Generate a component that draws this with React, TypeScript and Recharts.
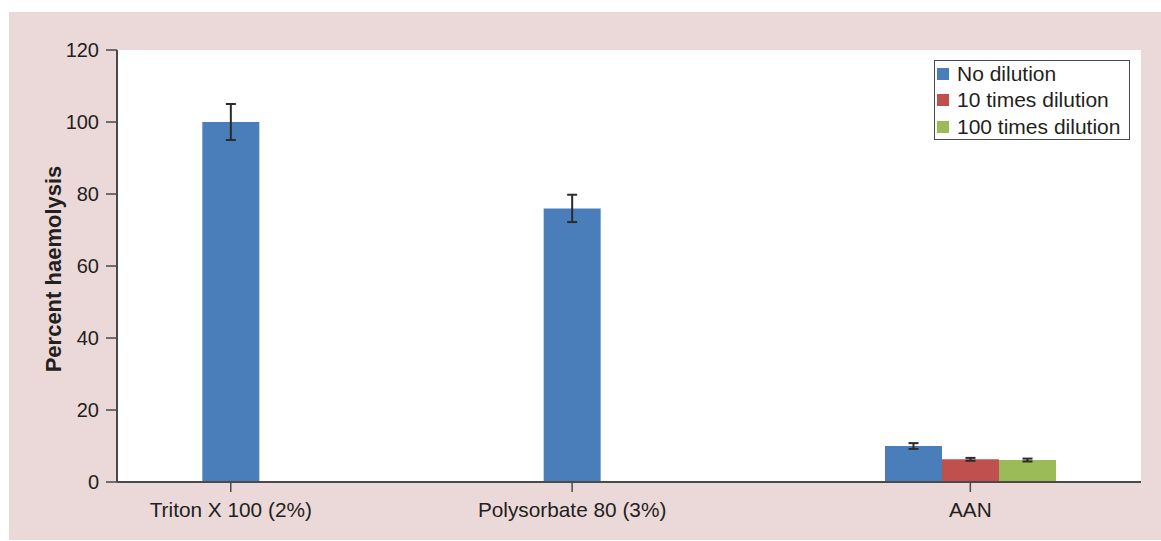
import { BarChart, Bar, XAxis, YAxis, CartesianGrid, ErrorBar, Legend, Label } from 'recharts'

const categories = ['Triton X 100 (2%)', 'Polysorbate 80 (3%)', 'AAN']
const noDilution = [100, 76, 10]
const noDilutionErr = [5, 3.8, 0.8]
const tenTimes = [null, null, 6.3]
const tenTimesErr = [null, null, 0.4]
const hundredTimes = [null, null, 6.1]
const hundredTimesErr = [null, null, 0.4]
const yTicks = [0, 20, 40, 60, 80, 100, 120]

const series = [
  { key: 'none', name: 'No dilution', color: '#4a7ebb' },
  { key: 'ten', name: '10 times dilution', color: '#c0504d' },
  { key: 'hundred', name: '100 times dilution', color: '#9bbb59' }
]

const data = categories.map((name, i) => ({
  name,
  none: noDilution[i],
  noneErr: noDilutionErr[i],
  ten: tenTimes[i],
  tenErr: tenTimesErr[i],
  hundred: hundredTimes[i],
  hundredErr: hundredTimesErr[i]
}))

const W = 1161
const H = 541
const MARGIN = { top: 50, right: 20, bottom: 0, left: 0 }
const Y_AXIS_W = 117
const X_AXIS_H = 59
const FONT = '"Liberation Sans", Arial, Helvetica, sans-serif'
const AXIS = '#4a4a4a'
const TEXT = '#231f20'

// width of one bar slot inside a category band (25% gap on each side, 3 bars)
const PLOT_W = W - MARGIN.left - MARGIN.right - Y_AXIS_W
const SLOT = PLOT_W / categories.length / 2 / series.length

// categories with only the undiluted bar get their label under that bar
function CategoryTick(props: any) {
  const { x, y, payload } = props
  const row = data.find(d => d.name === payload.value)
  const solo = row && row.ten == null && row.hundred == null
  const cx = x + (solo ? -SLOT : 0)
  return (
    <g>
      <line x1={cx} x2={cx} y1={y - 20} y2={y - 10} stroke={AXIS} strokeWidth={1.5} />
      <text x={cx} y={y} dy="0.7em" textAnchor="middle" fill={TEXT} fontSize={20.8} fontFamily={FONT}>
        {payload.value}
      </text>
    </g>
  )
}

function YTitle(props: any) {
  const { viewBox } = props
  const cx = 53
  const cy = viewBox.y + viewBox.height / 2 + 3
  return (
    <text
      x={cx}
      y={cy}
      transform={`rotate(-90, ${cx}, ${cy})`}
      textAnchor="middle"
      dominantBaseline="central"
      fill={TEXT}
      fontSize={22}
      fontWeight="bold"
      fontFamily={FONT}
    >
      Percent haemolysis
    </text>
  )
}

function LegendBox() {
  return (
    <div
      style={{
        width: 196,
        height: 80,
        boxSizing: 'border-box',
        border: `1.5px solid ${AXIS}`,
        background: '#fff',
        padding: '0 0 0 2px',
        fontFamily: FONT,
        fontSize: 21,
        color: TEXT
      }}
    >
      {series.map(s => (
        <div key={s.key} style={{ display: 'flex', alignItems: 'center', height: 26.3 }}>
          <span style={{ width: 12, height: 12, background: s.color, marginRight: 8, flex: 'none' }} />
          <span style={{ whiteSpace: 'nowrap' }}>{s.name}</span>
        </div>
      ))}
    </div>
  )
}

export default function App() {
  return (
    <div style={{ position: 'absolute', left: 0, top: 0, width: W, height: H, background: '#fff' }}>
      <div style={{ position: 'absolute', left: 9, top: 12, width: W - 9, height: 528, background: '#ebd8d8' }} />
      <div style={{ position: 'absolute', left: 0, top: 0 }}>
        <BarChart width={W} height={H} data={data} margin={MARGIN} barCategoryGap="25%" barGap={0}>
          <CartesianGrid fill="#fff" horizontal={false} vertical={false} stroke="none" />
          <XAxis
            dataKey="name"
            height={X_AXIS_H}
            axisLine={{ stroke: AXIS, strokeWidth: 2 }}
            tickLine={false}
            tickSize={10}
            tickMargin={10}
            interval={0}
            tick={<CategoryTick />}
          />
          <YAxis
            width={Y_AXIS_W}
            domain={[0, 120]}
            ticks={yTicks}
            interval={0}
            axisLine={{ stroke: AXIS, strokeWidth: 2 }}
            tickLine={{ stroke: AXIS, strokeWidth: 1.5 }}
            tickSize={11}
            tickMargin={7}
            tick={{ fill: TEXT, fontSize: 20, fontFamily: FONT }}
          >
            <Label content={<YTitle />} />
          </YAxis>
          <Legend
            layout="vertical"
            align="center"
            verticalAlign="middle"
            wrapperStyle={{ left: 934, top: 60, width: 196, height: 80 }}
            content={<LegendBox />}
          />
          {series.map(s => (
            <Bar key={s.key} dataKey={s.key} name={s.name} fill={s.color} isAnimationActive={false}>
              <ErrorBar dataKey={`${s.key}Err`} width={5} stroke="#2b2b2b" strokeWidth={2} direction="y" />
            </Bar>
          ))}
        </BarChart>
      </div>
    </div>
  )
}
